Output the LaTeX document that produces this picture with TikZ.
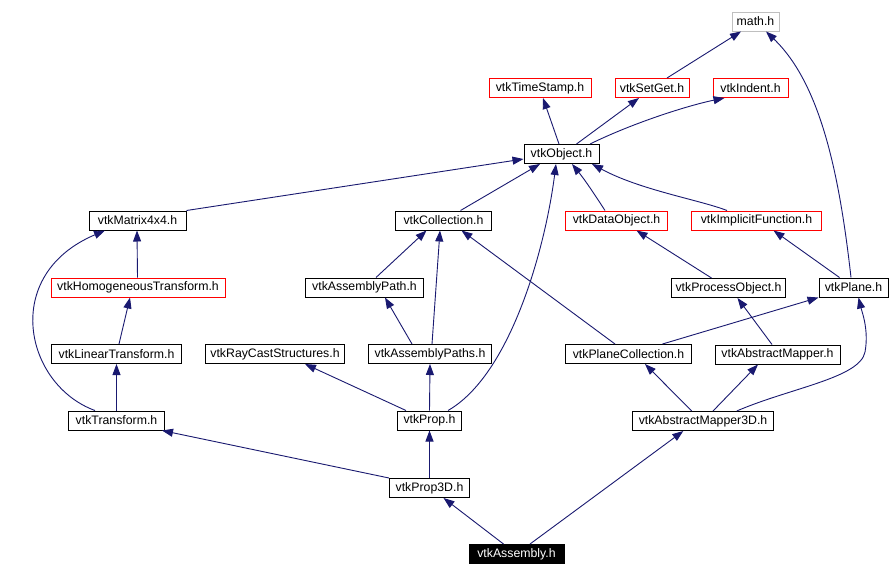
\documentclass[tikz,border=0pt]{standalone}
\usepackage{fontspec}
\setmainfont{Liberation Sans}
\usetikzlibrary{arrows.meta}
\definecolor{edgeblue}{HTML}{191970}
\definecolor{boxred}{HTML}{FF0000}
\definecolor{boxgray}{HTML}{BFBFBF}
\begin{document}
\begin{tikzpicture}[x=1pt,y=-1pt,
  box/.style={draw=black, line width=1pt, inner sep=0pt, minimum height=19pt, font=\fontsize{12.3}{14}\selectfont},
  redbox/.style={box, draw=boxred},
  graybox/.style={box, draw=boxgray},
  mainbox/.style={box, fill=black, text=white},
  dep/.style={draw=edgeblue, line width=0.9pt, -{Triangle[length=11pt,width=8pt]}, edgeblue}]
\useasboundingbox[fill=white] (0,0) rectangle (893,576);
% nodes
\node[graybox, minimum width=47pt] (math) at (755.5,21.5) {math.h};
\node[redbox, minimum width=102pt] (timestamp) at (540,88) {vtkTimeStamp.h};
\node[redbox, minimum width=74pt] (setget) at (652,88) {vtkSetGet.h};
\node[redbox, minimum width=75pt] (indent) at (750.5,88) {vtkIndent.h};
\node[box, minimum width=75pt] (object) at (561.5,154) {vtkObject.h};
\node[box, minimum width=97pt] (matrix) at (137.5,220.5) {vtkMatrix4x4.h};
\node[box, minimum width=96pt] (collection) at (443.5,220.5) {vtkCollection.h};
\node[redbox, minimum width=102pt] (dataobject) at (616.5,220.5) {vtkDataObject.h};
\node[redbox, minimum width=130pt] (implicit) at (756.5,220.5) {vtkImplicitFunction.h};
\node[redbox, minimum width=174pt] (homog) at (138,287.5) {vtkHomogeneousTransform.h};
\node[box, minimum width=118pt] (asmpath) at (364.5,287.5) {vtkAssemblyPath.h};
\node[box, minimum width=114pt] (procobj) at (728.5,288) {vtkProcessObject.h};
\node[box, minimum width=69pt] (plane) at (853.5,287.5) {vtkPlane.h};
\node[box, minimum width=130pt] (lintrans) at (116.5,354) {vtkLinearTransform.h};
\node[box, minimum width=139pt] (raycast) at (275,354) {vtkRayCastStructures.h};
\node[box, minimum width=123pt] (asmpaths) at (430,354) {vtkAssemblyPaths.h};
\node[box, minimum width=126pt] (planecoll) at (628.5,354) {vtkPlaneCollection.h};
\node[box, minimum width=125pt] (absmapper) at (777.5,354.5) {vtkAbstractMapper.h};
\node[box, minimum width=96pt] (transform) at (116.5,420.5) {vtkTransform.h};
\node[box, minimum width=64pt] (prop) at (429.5,420.5) {vtkProp.h};
\node[box, minimum width=141pt] (absmapper3d) at (703,421) {vtkAbstractMapper3D.h};
\node[box, minimum width=80pt] (prop3d) at (429.5,488) {vtkProp3D.h};
\node[mainbox, minimum width=95pt] (assembly) at (516.5,554) {vtkAssembly.h};
% edges
\draw[dep] ([xshift=15pt]setget.north) -- ([xshift=-14.5pt]math.south);
\draw[dep] ([xshift=-2.5pt]plane.north) .. controls (840,180) and (822,85) .. ([xshift=10.5pt]math.south);
\draw[dep] ([xshift=-2.5pt]object.north) -- ([xshift=3pt]timestamp.south);
\draw[dep] ([xshift=15pt]object.north) -- ([xshift=-13pt]setget.south);
\draw[dep] ([xshift=28.5pt]object.north) .. controls (635,122) and (690,105) .. ([xshift=-26pt]indent.south);
\draw[dep] (matrix.north east) -- ([yshift=-5pt]object.west);
\draw[dep] ([xshift=17pt]collection.north) -- ([xshift=-21.5pt]object.south);
\draw[dep] ([xshift=-11.5pt]dataobject.north) .. controls (595,195) and (585,180) .. ([xshift=10.5pt]object.south);
\draw[dep] ([xshift=-29.5pt]implicit.north) .. controls (700,200) and (640,190) .. ([xshift=30.5pt]object.south);
\draw[dep] ([xshift=18.5pt]prop.north) .. controls (510,375) and (545,250) .. ([xshift=-5.5pt]object.south);
\draw[dep] ([xshift=-0.5pt]homog.north) -- ([xshift=-0.5pt]matrix.south);
\draw[dep] ([xshift=-21.5pt]transform.north) .. controls (25,385) and (0,275) .. ([xshift=-32.5pt]matrix.south);
\draw[dep] ([xshift=2.5pt]lintrans.north) -- ([xshift=-8pt]homog.south);
\draw[dep] (transform.north) -- (lintrans.south);
\draw[dep] ([xshift=11.5pt]asmpath.north) -- ([xshift=-17pt]collection.south);
\draw[dep] ([xshift=2pt]asmpaths.north) -- ([xshift=-3.5pt]collection.south);
\draw[dep] ([xshift=-13.5pt]planecoll.north) -- ([xshift=18pt]collection.south);
\draw[dep] ([xshift=-18pt]asmpaths.north) -- ([xshift=20.5pt]asmpath.south);
\draw[dep] ([xshift=-23.5pt]prop.north) -- ([xshift=30pt]raycast.south);
\draw[dep] (prop.north) -- (asmpaths.south);
\draw[dep] ([xshift=-17pt]procobj.north) -- ([xshift=20pt]dataobject.south);
\draw[dep] ([xshift=-14pt]plane.north) -- ([xshift=17pt]implicit.south);
\draw[dep] ([xshift=34pt]planecoll.north) -- (plane.south west);
\draw[dep] ([xshift=-5.5pt]absmapper.north) -- ([xshift=9pt]procobj.south);
\draw[dep] ([xshift=-11.3pt]absmapper3d.north) -- ([xshift=16.5pt]planecoll.south);
\draw[dep] ([xshift=10pt]absmapper3d.north) -- ([xshift=-19.5pt]absmapper.south);
\draw[dep] ([xshift=33.7pt]absmapper3d.north) .. controls (790,388) and (860,378) .. (865,352) .. controls (869,330) and (862,312) .. ([xshift=5pt]plane.south);
\draw[dep] (prop3d.north west) -- ([xshift=-3pt]transform.south east);
\draw[dep] (prop3d.north) -- (prop.south);
\draw[dep] ([xshift=-13pt]assembly.north) -- ([xshift=14pt]prop3d.south);
\draw[dep] ([xshift=13.5pt]assembly.north) -- ([xshift=-19.7pt]absmapper3d.south);
\end{tikzpicture}
\end{document}
